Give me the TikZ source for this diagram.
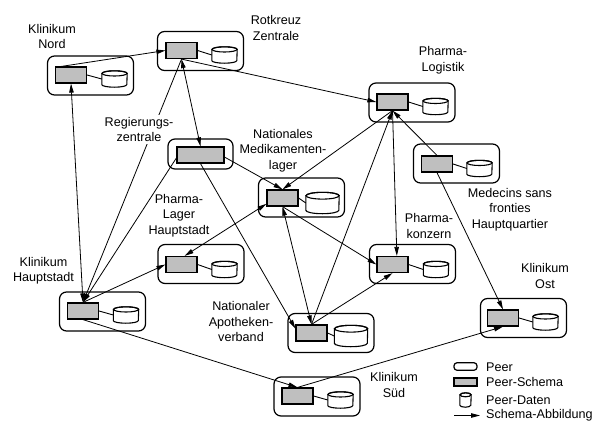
\documentclass[tikz,border=0pt]{standalone}
\usepackage{fontspec}
\setmainfont{Liberation Sans}
\usetikzlibrary{arrows.meta}

\definecolor{schemagray}{gray}{0.75}

% frames are unfilled and go on a layer above the connectors and labels
\pgfdeclarelayer{frames}
\pgfsetlayers{main,frames}

\tikzset{
  peer/.style={draw, line width=1.2pt, rounded corners=7pt, minimum width=86pt,
    minimum height=39pt, inner sep=0pt},
  schema/.style={draw, line width=1.2pt, fill=schemagray, minimum width=31pt,
    minimum height=16pt, inner sep=0pt},
  drum/.style={minimum width=25pt, minimum height=16pt, inner sep=0pt},
  bigdrum/.style={minimum width=33pt, minimum height=21pt, inner sep=0pt},
  lbl/.style={align=center, font=\fontsize{12.6}{15.5}\selectfont, inner sep=0pt},
  legendtext/.style={anchor=west, font=\fontsize{12.6}{15.5}\selectfont, inner sep=0pt},
  link/.style={line width=0.8pt},
  tip/.tip={Triangle[length=9pt,width=4.5pt]},
  map/.style={link, -tip},
  bimap/.style={link, tip-tip},
  stub/.style={line width=0.9pt},
}

% data store drawn as a cylinder inside the named node #1
% #2 = half width, #3 = vertical radius of the end ellipses
\newcommand{\drumbody}[3]{%
  \draw[line width=1.1pt, fill=white]
    ([yshift=-#3]#1.north west) -- ([yshift=#3]#1.south west)
    arc[start angle=180, end angle=360, x radius=#2, y radius=#3]
    -- ([yshift=-#3]#1.north east)
    arc[start angle=0, end angle=180, x radius=#2, y radius=#3] -- cycle;
  \draw[line width=1.1pt] ([yshift=-#3]#1.north)
    ellipse[x radius=#2, y radius=#3];
}

\begin{document}
\begin{tikzpicture}[x=1pt, y=-1pt]
\useasboundingbox (0,0) rectangle (597,421);

% peer frames
\begin{pgfonlayer}{frames}
\node[peer] (bN) at (90.5,75.5) {};
\node[peer] (bR) at (200.5,51) {};
\node[peer] (bL) at (412,102.5) {};
\node[peer, minimum width=65pt, minimum height=30pt] (bG) at (200.5,154) {};
\node[peer] (bM) at (301.5,197.5) {};
\node[peer] (bF) at (456.5,163.5) {};
\node[peer] (bK) at (412.5,264) {};
\node[peer] (bP) at (201,264) {};
\node[peer] (bH) at (102.5,311.5) {};
\node[peer] (bA) at (331,333) {};
\node[peer] (bO) at (523.5,318) {};
\node[peer] (bS) at (317,396.5) {};
\end{pgfonlayer}

% peer schemas
\node[schema] (N) at (71,75) {};
\node[schema] (R) at (181.5,50.5) {};
\node[schema] (L) at (392.5,102) {};
\node[schema, minimum width=47pt] (G) at (200.5,155) {};
\node[schema] (M) at (282.5,198) {};
\node[schema] (F) at (437,164) {};
\node[schema] (K) at (392.5,264.5) {};
\node[schema] (P) at (181.5,264.5) {};
\node[schema] (H) at (83,311) {};
\node[schema] (A) at (311.5,333) {};
\node[schema] (O) at (503,318) {};
\node[schema] (S) at (297.5,396) {};

% peer data
\node[drum] (dN) at (114.5,79) {};
\node[drum] (dR) at (224.5,55) {};
\node[drum] (dL) at (435.5,106.5) {};
\node[bigdrum] (dM) at (322.5,203) {};
\node[drum] (dF) at (479.5,168.5) {};
\node[drum] (dK) at (436,269.5) {};
\node[drum] (dP) at (224.5,269.5) {};
\node[drum] (dH) at (126,315) {};
\node[bigdrum] (dA) at (351,336) {};
\node[drum] (dO) at (545.5,322) {};
\node[drum] (dS) at (340.5,400) {};

\foreach \d in {dN,dR,dL,dF,dK,dP,dH,dO,dS} {\drumbody{\d}{12.5pt}{2.6pt}}
\foreach \d in {dM,dA} {\drumbody{\d}{16.5pt}{3.4pt}}

\foreach \s in {N,R,L,M,F,K,P,H,A,O,S} {\draw[stub] (\s.east) -- (d\s.west);}

% schema mappings
\draw[map] (N.138) -- (R.west);
\draw[map] (R.south) -- (L.west);
\draw[bimap] (R.south) -- (G.north);
\draw[map] (R.south) -- (H.north);
\draw[bimap] (N.south) -- (H.north);
\draw[map] (G.187) -- (H.north);
\draw[map] (G.-5) -- (M.north);
\draw[map] (G.south) -- (A.165);
\draw[map] (L.south) -- (M.north);
\draw[map] (L.south) -- (K.63);
\draw[map] (A.north) -- (L.south);
\draw[map] (A.north) -- (K.south);
\draw[bimap] (M.south) -- (A.north);
\draw[map] (M.south) -- (K.west);
\draw[bimap] (P.70) -- (M.200);
\draw[map] (H.north) -- (P.west);
\draw[map] (H.south) -- (S.north);
\draw[map] (S.north) -- (O.south);
\draw[map] (F.south) -- (O.north);
\draw[map] (F.north) -- (L.south);

% peer names
\node[lbl] (tN) at (52,36.5) {Klinikum\\Nord};
\node[lbl] (tR) at (276,28) {Rotkreuz\\Zentrale};
\node[lbl] (tL) at (443,60) {Pharma-\\Logistik};
\node[lbl, fill=white, inner sep=2pt] (tG) at (139,129.5) {Regierungs-\\zentrale};
\node[lbl] (tM) at (283,150.5) {Nationales\\Medikamenten-\\lager};
\node[lbl] (tF) at (510,209.5) {Medecins sans\\fronties\\Hauptquartier};
\node[lbl] (tK) at (429,226) {Pharma-\\konzern};
\node[lbl] (tP) at (179,215.5) {Pharma-\\Lager\\Hauptstadt};
\node[lbl] (tH) at (43.5,270.5) {Klinikum\\Hauptstadt};
\node[lbl] (tA) at (241,321.5) {Nationaler\\Apotheken-\\verband};
\node[lbl] (tO) at (545,276) {Klinikum\\Ost};
\node[lbl] (tS) at (394,385) {Klinikum\\Süd};

% legend
\node[draw, line width=1.2pt, rounded corners=3pt, minimum width=23pt,
  minimum height=7.5pt, inner sep=0pt] (gPeer) at (465.5,366.5) {};
\node[schema, minimum width=23pt, minimum height=8pt] (gSchema) at (465.5,382) {};
\node[minimum width=11pt, minimum height=14pt, inner sep=0pt] (gDrum) at (465.5,400) {};
\drumbody{gDrum}{5.5pt}{2pt}
\coordinate (gA) at (454,415.5);
\coordinate (gB) at (480,415.5);
\draw[map] (gA) -- (gB);
\node[legendtext] (lPeer) at (486,367) {Peer};
\node[legendtext] (lSchema) at (486,382) {Peer-Schema};
\node[legendtext] (lDrum) at (486,400) {Peer-Daten};
\node[legendtext] (lMap) at (486,415.5) {Schema-Abbildung};
\end{tikzpicture}
\end{document}
